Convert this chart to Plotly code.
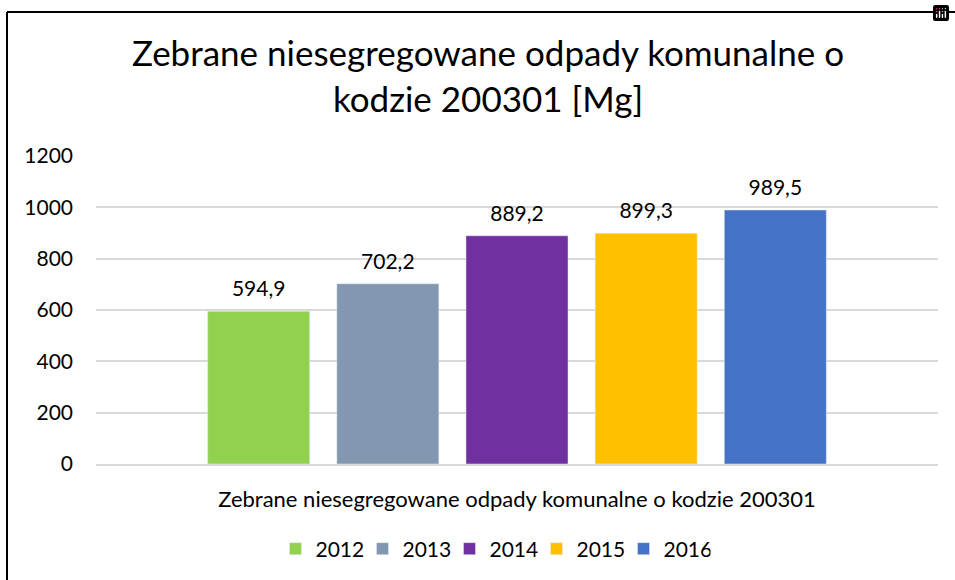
import plotly.graph_objects as go

categories = ["Zebrane niesegregowane odpady komunalne o kodzie 200301"]
years = ["2012", "2013", "2014", "2015", "2016"]
values = [594.9, 702.2, 889.2, 899.3, 989.5]
colors = ["#92D050", "#8497B0", "#7030A0", "#FFC000", "#4472C4"]
y_ticks = [0, 200, 400, 600, 800, 1000, 1200]

FONT = "Lato"
W, H = 955, 580
ML, MR, MT, MB = 96, 955 - 938, 156, 580 - 464
pw = W - ML - MR
ph = H - MT - MB

BARGAP = 0.233

fig = go.Figure()
for yr, v, c in zip(years, values, colors):
    fig.add_trace(go.Bar(
        x=categories, y=[v], name=yr, marker_color=c,
        offsetgroup=yr, alignmentgroup="a",
    ))
for yr, v in zip(years, values):
    fig.add_trace(go.Scatter(
        x=categories, y=[v], mode="markers+text", showlegend=False,
        offsetgroup=yr, alignmentgroup="a",
        marker=dict(size=14, opacity=0),
        text=[f"{v:.1f}".replace(".", ",")], textposition="top center",
        textfont=dict(size=21, color="#000000", family=FONT),
        cliponaxis=False, hoverinfo="skip",
    ))

bx0 = (7 - ML) / pw
bx1 = (W - ML) / pw
by0 = -MB / ph
by1 = (464 - 12) / ph
fig.update_layout(
    width=W, height=H,
    margin=dict(l=ML, r=MR, t=MT, b=MB),
    paper_bgcolor="white", plot_bgcolor="white",
    barmode="group", bargap=BARGAP, bargroupgap=0.21,
    scattermode="group", scattergap=BARGAP,
    font=dict(family=FONT, color="#000000", size=20),
    modebar=dict(bgcolor="rgba(0,0,0,0)", color="rgba(0,0,0,0)",
                 activecolor="rgba(0,0,0,0)"),
    title=dict(
        text="Zebrane niesegregowane odpady komunalne o<br>kodzie 200301 [Mg]",
        x=488 / W, xref="container", xanchor="center",
        y=1 - 66 / H, yref="container", yanchor="middle",
        font=dict(family=FONT, size=35, color="#000000"),
    ),
    showlegend=True,
    legend=dict(
        orientation="h", x=493 / W, xanchor="center", xref="container",
        y=(H - 549) / H, yanchor="middle", yref="container",
        font=dict(family=FONT, size=21, color="#000000"),
        itemwidth=30, traceorder="normal",
        entrywidth=42, entrywidthmode="pixels",
    ),
    shapes=[
        dict(type="line", xref="paper", yref="paper",
             x0=bx0, x1=bx1, y0=by1, y1=by1,
             line=dict(color="#000000", width=2), layer="above"),
        dict(type="line", xref="paper", yref="paper",
             x0=bx0, x1=bx0, y0=by0, y1=by1,
             line=dict(color="#000000", width=2), layer="above"),
    ],
)

fig.update_yaxes(
    range=[0, 1200], tickvals=y_ticks, ticktext=[str(t) for t in y_ticks],
    showgrid=True, gridcolor="#D9D9D9", gridwidth=1.5,
    zeroline=False, showline=False, ticks="",
    ticklabelstandoff=22,
    tickfont=dict(family=FONT, size=21, color="#000000"),
)
fig.update_xaxes(
    showline=True, linecolor="#D9D9D9", linewidth=1.5,
    ticks="", ticklabelstandoff=15,
    tickfont=dict(family=FONT, size=22, color="#000000"),
)

fig.write_html(
    "out.html",
    post_script="document.body.style.margin='0';document.body.style.overflow='hidden';",
)
